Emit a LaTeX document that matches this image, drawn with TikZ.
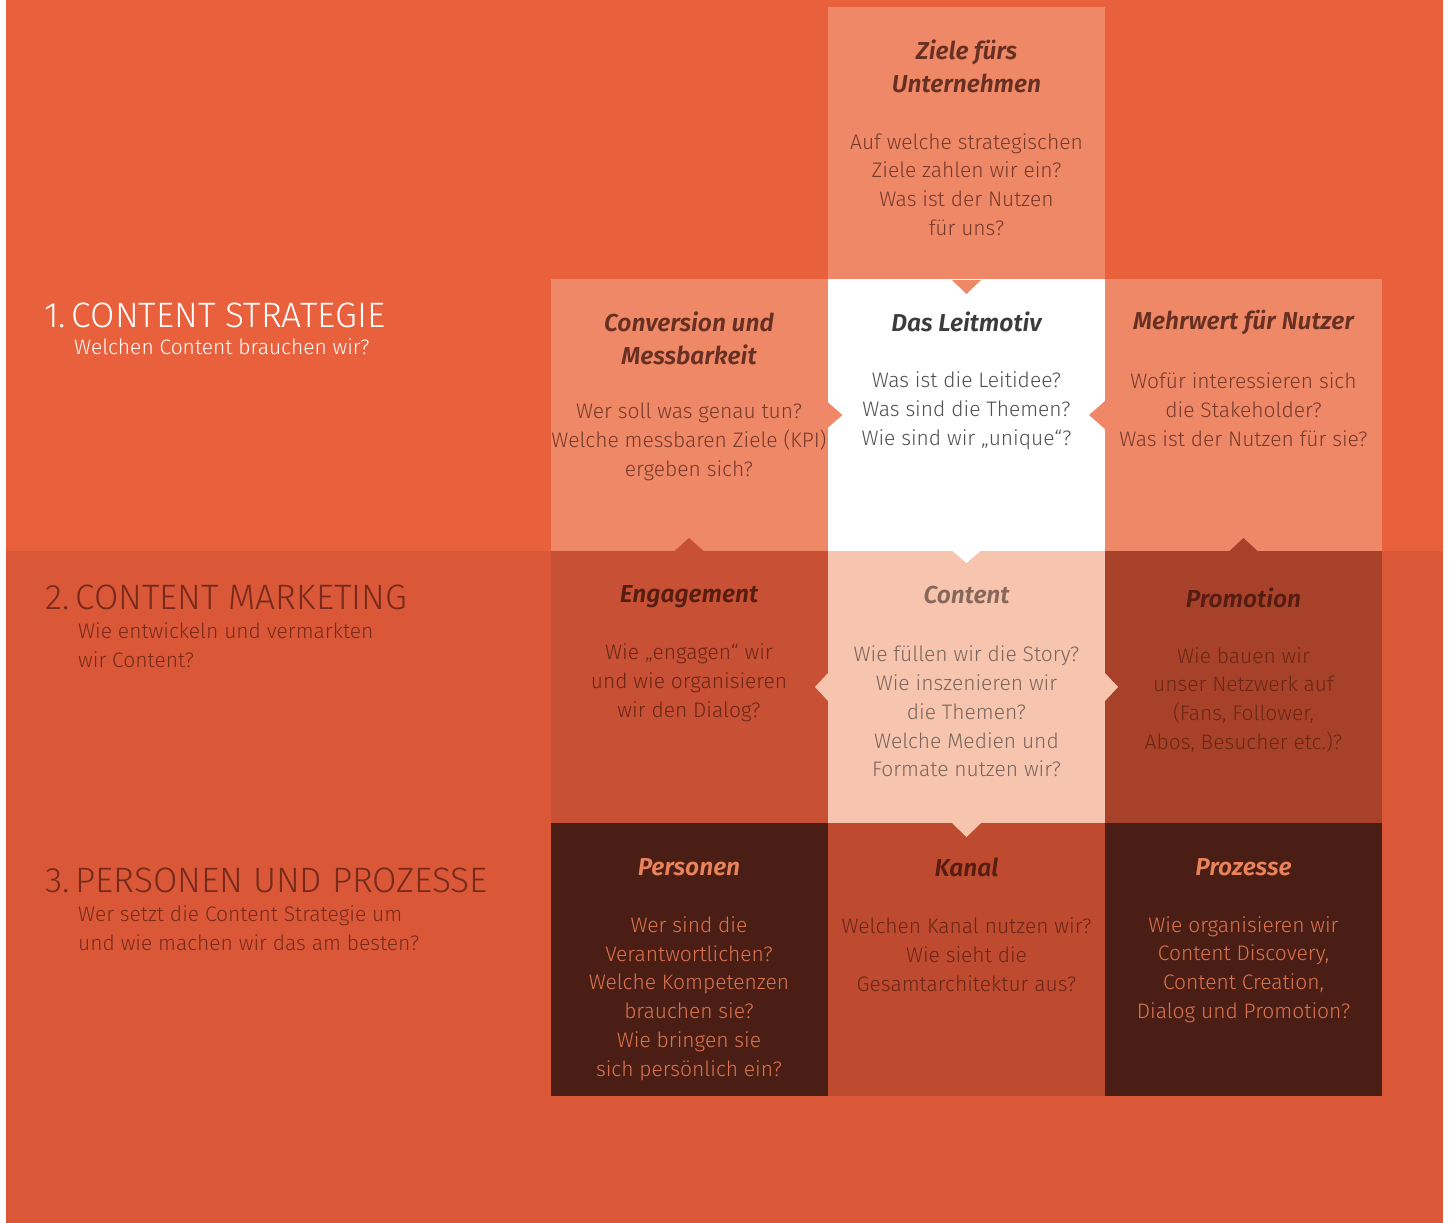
\documentclass[tikz,border=0pt]{standalone}
\usepackage{fontspec}
\setmainfont{Fira Sans Light}[
  ItalicFont={Fira Sans Light Italic},
  BoldFont={Fira Sans SemiBold},
  BoldItalicFont={Fira Sans SemiBold Italic}]
\usetikzlibrary{calc}

% palette
\definecolor{bgtop}{HTML}{E9603D}
\definecolor{bgbot}{HTML}{DA5838}
\definecolor{lightcell}{HTML}{EF8866}
\definecolor{engcell}{HTML}{C85034}
\definecolor{contcell}{HTML}{F7C4AE}
\definecolor{promcell}{HTML}{A8412A}
\definecolor{darkcell}{HTML}{4A1E15}
\definecolor{kanalcell}{HTML}{BE4A2F}
\definecolor{txtlight}{HTML}{763A2B}
\definecolor{headlight}{HTML}{673022}
\definecolor{txtwhite}{HTML}{505050}
\definecolor{headwhite}{HTML}{3C3C3C}
\definecolor{txtcont}{HTML}{7A665E}
\definecolor{headcont}{HTML}{87675B}
\definecolor{txtmid}{HTML}{6A2617}
\definecolor{headmid}{HTML}{571D11}
\definecolor{txtdark}{HTML}{DC7350}
\definecolor{headdark}{HTML}{EA825B}
\definecolor{rowlabel}{HTML}{772A1B}

\tikzset{
  cell/.style={minimum width=277pt, minimum height=272pt, inner sep=0pt,
    outer sep=0pt, draw=none, fill=#1},
  head/.style={font=\fontsize{24.5}{33}\selectfont\bfseries\itshape,
    align=center, inner sep=0pt, text=#1},
  body/.style={font=\fontsize{21}{28.8}\selectfont, align=center,
    inner sep=0pt, text=#1},
  rowtitle/.style={font=\fontsize{35.3}{40}\selectfont, anchor=west,
    inner sep=0pt, text=#1},
  rowsub/.style={font=\fontsize{21}{29}\selectfont, anchor=west,
    align=left, inner sep=0pt, text=#1},
}

\begin{document}
\begin{tikzpicture}[x=1pt, y=-1pt]
\useasboundingbox (0,0) rectangle (1449,1223);
\fill[white] (0,0) rectangle (1449,1223);

% two background bands
\fill[bgtop] (6,0) rectangle (1443,551);
\fill[bgbot] (6,551) rectangle (1443,1223);

% grid cells
\node[cell=lightcell, minimum height=273pt] (ziele) at (966.5,143.5) {};
\node[cell=lightcell] (conv)  at (689,415) {};
\node[cell=white]     (leit)  at (966.5,415) {};
\node[cell=lightcell] (mehr)  at (1243.5,415) {};
\node[cell=engcell]   (eng)   at (689,687) {};
\node[cell=contcell]  (cont)  at (966.5,687) {};
\node[cell=promcell]  (prom)  at (1243.5,687) {};
\node[cell=darkcell, minimum height=273pt]  (pers)  at (689,959.5) {};
\node[cell=kanalcell, minimum height=273pt] (kanal) at (966.5,959.5) {};
\node[cell=darkcell, minimum height=273pt]  (proz)  at (1243.5,959.5) {};

% pointers between neighbouring cells
\fill[lightcell] ($(ziele.south)+(-14.5,0)$) -- ($(ziele.south)+(14.5,0)$)
  -- ($(ziele.south)+(0,14)$) -- cycle;
\fill[lightcell] ($(conv.east)+(0,-13)$) -- ($(conv.east)+(0,13)$)
  -- ($(conv.east)+(15,0)$) -- cycle;
\fill[lightcell] ($(mehr.west)+(0,-14)$) -- ($(mehr.west)+(0,14)$)
  -- ($(mehr.west)+(-16,0)$) -- cycle;
\fill[engcell] ($(eng.north)+(-14.5,0)$) -- ($(eng.north)+(14.5,0)$)
  -- ($(eng.north)+(0,-13)$) -- cycle;
\fill[promcell] ($(prom.north)+(-14,0)$) -- ($(prom.north)+(14,0)$)
  -- ($(prom.north)+(0,-13)$) -- cycle;
\fill[white] ($(leit.south)+(-14,0)$) -- ($(leit.south)+(14,0)$)
  -- ($(leit.south)+(0,12)$) -- cycle;
\fill[contcell] ($(cont.west)+(0,-14)$) -- ($(cont.west)+(0,14)$)
  -- ($(cont.west)+(-13,0)$) -- cycle;
\fill[contcell] ($(cont.east)+(0,-14)$) -- ($(cont.east)+(0,14)$)
  -- ($(cont.east)+(13,0)$) -- cycle;
\fill[contcell] ($(cont.south)+(-14.5,0)$) -- ($(cont.south)+(14.5,0)$)
  -- ($(cont.south)+(0,14)$) -- cycle;

% cell texts
\node[head=headlight] (zieleH) at (966.5,66.5) {Ziele fürs\\Unternehmen};
\node[body=txtlight]  (zieleB) at (966.5,184.5) {Auf welche strategischen\\Ziele zahlen wir ein?\\Was ist der Nutzen\\für uns?};

\node[head=headlight] (convH) at (689,338.5) {Conversion und\\Messbarkeit};
\node[body=txtlight]  (convB) at (689,442) {Wer soll was genau tun?\\Welche messbaren Ziele (KPI)\\ergeben sich?};

\node[head=headwhite] (leitH) at (966.5,322) {Das Leitmotiv};
\node[body=txtwhite]  (leitB) at (966.5,410.5) {Was ist die Leitidee?\\Was sind die Themen?\\Wie sind wir „unique“?};

\node[head=headlight] (mehrH) at (1243.5,323) {Mehrwert für Nutzer};
\node[body=txtlight]  (mehrB) at (1243.5,410) {Wofür interessieren sich\\die Stakeholder?\\Was ist der Nutzen für sie?};

\node[head=headmid] (engH) at (689,596.5) {Engagement};
\node[body=txtmid]  (engB) at (689,683) {Wie „engagen“ wir\\und wie organisieren\\wir den Dialog?};

\node[head=headcont] (contH) at (966.5,595) {Content};
\node[body=txtcont]  (contB) at (966.5,711.5) {Wie füllen wir die Story?\\Wie inszenieren wir\\die Themen?\\Welche Medien und\\Formate nutzen wir?};

\node[head=headmid] (promH) at (1243.5,598) {Promotion};
\node[body=txtmid]  (promB) at (1243.5,700) {Wie bauen wir\\unser Netzwerk auf\\(Fans, Follower,\\Abos, Besucher etc.)?};

\node[head=headdark] (persH) at (689,867) {Personen};
\node[body=txtdark]  (persB) at (689,998.5) {Wer sind die\\Verantwortlichen?\\Welche Kompetenzen\\brauchen sie?\\Wie bringen sie\\sich persönlich ein?};

\node[head=headmid] (kanalH) at (966.5,867) {Kanal};
\node[body=txtmid]  (kanalB) at (966.5,954.5) {Welchen Kanal nutzen wir?\\Wie sieht die\\Gesamtarchitektur aus?};

\node[head=headdark] (prozH) at (1243.5,867) {Prozesse};
\node[body=txtdark]  (prozB) at (1243.5,969.5) {Wie organisieren wir\\Content Discovery,\\Content Creation,\\Dialog und Promotion?};

% row labels
\node[rowtitle=white] (row1) at (44,315) {1.\,CONTENT STRATEGIE};
\node[rowsub=white]   (row1s) at (74,346.5) {Welchen Content brauchen wir?};
\node[rowtitle=rowlabel] (row2) at (45,597) {2.\,CONTENT MARKETING};
\node[rowsub=rowlabel]   (row2s) at (78,645) {Wie entwickeln und vermarkten\\wir Content?};
\node[rowtitle=rowlabel] (row3) at (45,880) {3.\,PERSONEN UND PROZESSE};
\node[rowsub=rowlabel]   (row3s) at (78,928) {Wer setzt die Content Strategie um\\und wie machen wir das am besten?};
\end{tikzpicture}
\end{document}
